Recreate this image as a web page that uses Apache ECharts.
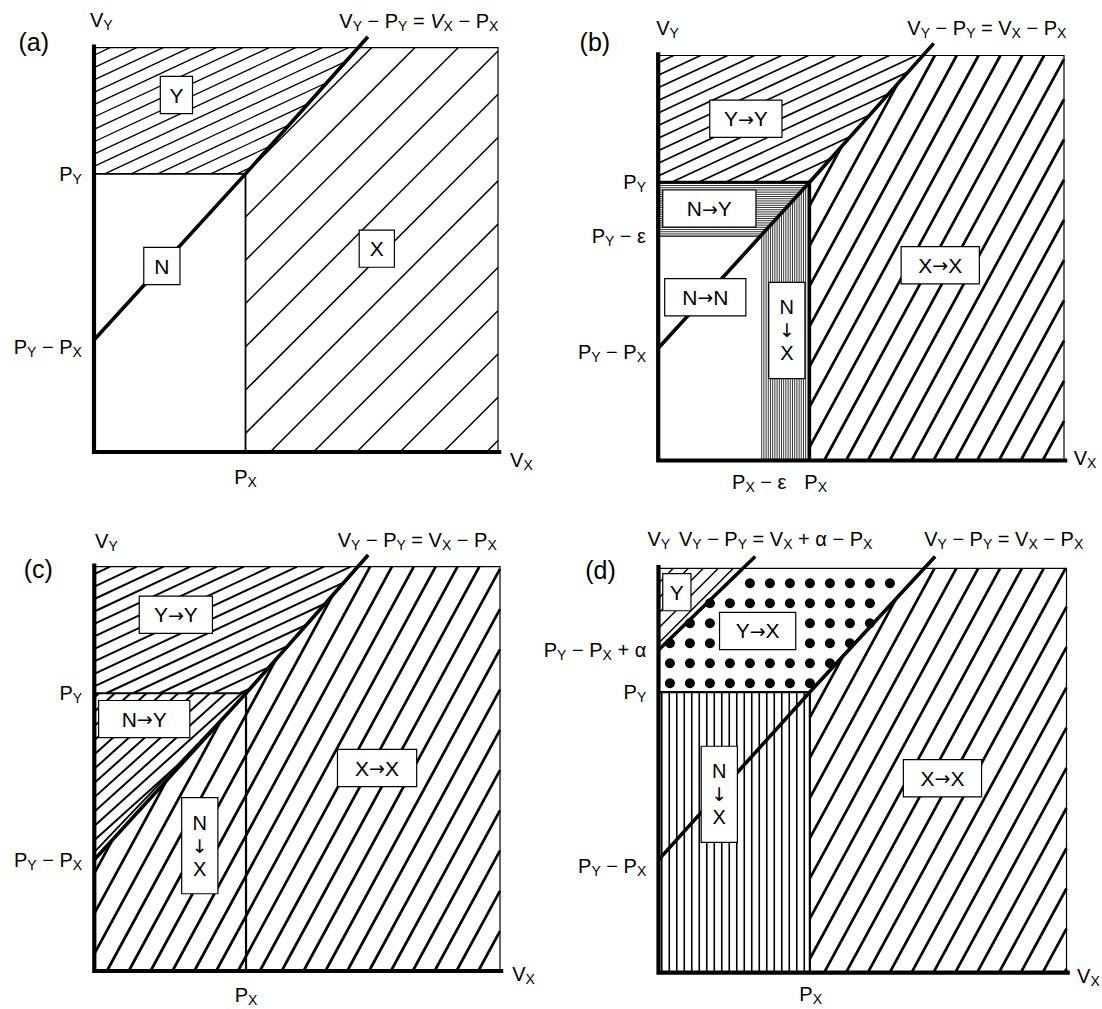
<!DOCTYPE html>
<html>
<head>
<meta charset="utf-8">
<script src="https://cdn.jsdelivr.net/npm/echarts@6/dist/echarts.min.js"></script>
<style>
html,body{margin:0;padding:0;background:#fff;}
#chart{width:1102px;height:1009px;}
</style>
</head>
<body>
<div id="chart"></div>
<script>
// ===================== DATA (values in % of each panel's frame) =====================
const panelNames = ['(a)', '(b)', '(c)', '(d)'];
const PX      = [37.5, 37.3, 37.4, 37.1];          // P_X on the V_X axis
const PY      = [68.8, 68.7, 68.7, 69.4];          // P_Y on the V_Y axis
const PYmPX   = [27.7, 27.7, 27.5, 27.9];          // P_Y − P_X (intercept of the diagonal)
const diagEnd = [[67.8, 102.7], [67.9, 103.0], [67.5, 102.9], [67.8, 102.9]];
const PXmEps  = 25.5;                              // panel (b): P_X − ε
const PYmEps  = 55.4;                              // panel (b): P_Y − ε
const thinStart = 29.4;                            // panel (c): second boundary line
const alphaStart = 79.8;                           // panel (d): P_Y − P_X + α
const alphaEnd   = [23.7, 102.9];                  // panel (d): end of the α line

// tick labels: [text, value]
const yTicks = [
  [['P_Y', PY[0]], ['P_Y − P_X', PYmPX[0]]],
  [['P_Y', PY[1]], ['P_Y − ε', PYmEps], ['P_Y − P_X', PYmPX[1]]],
  [['P_Y', PY[2]], ['P_Y − P_X', PYmPX[2]]],
  [['P_Y − P_X + α', alphaStart], ['P_Y', PY[3]], ['P_Y − P_X', PYmPX[3]]]
];
const xTicks = [
  [['P_X', PX[0]]],
  [['P_X − ε', PXmEps], ['P_X', PX[1]]],
  [['P_X', PX[2]]],
  [['P_X', PX[3]]]
];
const lineLabels = [
  ['V_Y − P_Y = *V_X − P_X'],
  ['V_Y − P_Y = V_X − P_X'],
  ['V_Y − P_Y = V_X − P_X'],
  ['V_Y − P_Y = V_X + α − P_X', 'V_Y − P_Y = V_X − P_X']
];
const regionLabels = [
  ['Y', 'N', 'X'],
  ['Y→Y', 'N→Y', 'N→N', 'N\n↓\nX', 'X→X'],
  ['Y→Y', 'N→Y', 'N\n↓\nX', 'X→X'],
  ['Y', 'Y→X', 'N\n↓\nX', 'X→X']
];

// ===================== LAYOUT / STYLE =====================
const FONT = '"Liberation Sans", Arial, Helvetica, sans-serif';
const GRIDS = [[94, 47.7, 404, 404.3], [658.2, 55.5, 405.8, 405], [94.3, 566.7, 405.7, 404.3], [658.5, 568.3, 408, 404.4]];
const regionLabelPos = [
  [[20.4, 88.3], [16.8, 46.0], [70.0, 50.3]],
  [[21.6, 84.4], [12.6, 62.2], [11.6, 40.3], [31.7, 32.1], [69.5, 48.2]],
  [[20.1, 88.1], [12.3, 62.3], [26.0, 31.0], [69.7, 50.2]],
  [[4.5, 94.1], [24.3, 84.5], [14.9, 44.1], [69.6, 48.1]]
];
const regionLabelW = [[31, 35, 34], [71, 92, 80, 35, 77], [72, 90, 35, 78], [27, 75, 35, 77]];
const letterPos = [[-14.9, 101.3], [-15.6, 103.4], [-13.8, 99.4], [-14.2, 99.6]];
const vyPos = [[-1.0, 106.9], [-0.5, 106.7], [0.2, 106.4], [-2.7, 107.2]];
const vxPos = [[103, -2], [102.4, 0.5], [103, -0.7], [102.6, -0.8]];
const lineLabelPos = [
  [[100.1, 106.6, 'right']],
  [[100.6, 106.9, 'right']],
  [[99.2, 106.6, 'right']],
  [[5.0, 107.2, 'left'], [104.1, 107.2, 'right']]
];
const xTickY = [-3.2, -2.3, -2.9, -2.2];
const xTickDX = [[0], [-0.6, 1.5], [0], [0.2]];
const yTickDY = [[0, -1.7], [0, 0, -0.8], [0, 0, -2.0], [0, 0, -1.5]];

const rich = {
  s: { fontSize: 14, fontFamily: FONT, fill: '#000', padding: [10, 0, 0, 0] },
  i: { fontSize: 20, fontFamily: FONT, fill: '#000', fontStyle: 'italic' }
};
const boxRich = {
  a: { fontSize: 19, fontFamily: '"DejaVu Sans", sans-serif', fill: '#000' }
};
function toRich(s) {
  return s.replace(/\*([A-Za-z])/g, '{i|$1}').replace(/_([A-Za-z])/g, '{s|$1}');
}
function arrowRich(s) {
  return s.replace(/([→↓])/g, '{a|$1}');
}

// hatch lines clipped to a polygon (pixel space)
function hatch(poly, angle, spacing, anchor, width) {
  const a = angle * Math.PI / 180;
  const ux = Math.cos(a), uy = -Math.sin(a);
  const nx = -uy, ny = ux;
  const proj = p => p[0] * nx + p[1] * ny;
  let lo = Infinity, hi = -Infinity;
  poly.forEach(p => { const v = proj(p); lo = Math.min(lo, v); hi = Math.max(hi, v); });
  const c0 = proj(anchor);
  const out = [];
  for (let k = Math.ceil((lo - c0) / spacing); c0 + k * spacing <= hi; k++) {
    const cc = c0 + k * spacing;
    const ss = [];
    for (let j = 0; j < poly.length; j++) {
      const p = poly[j], q = poly[(j + 1) % poly.length];
      const dp = proj(p) - cc, dq = proj(q) - cc;
      if ((dp > 0) !== (dq > 0)) {
        const t = dp / (dp - dq);
        const x = p[0] + t * (q[0] - p[0]), y = p[1] + t * (q[1] - p[1]);
        ss.push(x * ux + y * uy);
      }
    }
    ss.sort((m, n) => m - n);
    for (let j = 0; j + 1 < ss.length; j += 2) {
      out.push({
        type: 'line',
        shape: { x1: cc * nx + ss[j] * ux, y1: cc * ny + ss[j] * uy, x2: cc * nx + ss[j + 1] * ux, y2: cc * ny + ss[j + 1] * uy },
        style: { stroke: '#000', lineWidth: width, lineCap: 'butt' }
      });
    }
  }
  return out;
}
function insidePoly(poly, x, y) {
  let inside = false;
  for (let i = 0, j = poly.length - 1; i < poly.length; j = i++) {
    const xi = poly[i][0], yi = poly[i][1], xj = poly[j][0], yj = poly[j][1];
    if (((yi > y) !== (yj > y)) && (x < (xj - xi) * (y - yi) / (yj - yi) + xi)) inside = !inside;
  }
  return inside;
}
function edgeDist(poly, x, y) {
  let d = Infinity;
  for (let i = 0; i < poly.length; i++) {
    const p = poly[i], q = poly[(i + 1) % poly.length];
    const dx = q[0] - p[0], dy = q[1] - p[1];
    let t = ((x - p[0]) * dx + (y - p[1]) * dy) / (dx * dx + dy * dy);
    t = Math.max(0, Math.min(1, t));
    d = Math.min(d, Math.hypot(x - p[0] - t * dx, y - p[1] - t * dy));
  }
  return d;
}
function dots(poly, anchor, step, r, margin) {
  const xs = poly.map(p => p[0]), ys = poly.map(p => p[1]);
  const x0 = Math.min(...xs), x1 = Math.max(...xs), y0 = Math.min(...ys), y1 = Math.max(...ys);
  const out = [];
  const i0 = Math.ceil((x0 - anchor[0]) / step), j0 = Math.ceil((y0 - anchor[1]) / step);
  for (let i = i0; anchor[0] + i * step <= x1; i++) {
    for (let j = j0; anchor[1] + j * step <= y1; j++) {
      const cx = anchor[0] + i * step, cy = anchor[1] + j * step;
      if (insidePoly(poly, cx, cy) && edgeDist(poly, cx, cy) >= margin) {
        out.push({ type: 'circle', shape: { cx, cy, r }, style: { fill: '#000' } });
      }
    }
  }
  return out;
}

function buildPanel(i, api) {
  const C = p => api.coord(p);
  const P = pts => pts.map(C);
  const px = PX[i], py = PY[i], b0 = PYmPX[i], end = diagEnd[i];
  const topX = px + (100 - py) * (end[0] - px) / (end[1] - py);
  const out = [];
  const add = (arr, z) => arr.forEach(e => { e.z2 = z; out.push(e); });
  const pl = (pts, w) => ({ type: 'polyline', shape: { points: P(pts) }, style: { stroke: '#000', lineWidth: w, fill: null, lineJoin: 'miter', lineCap: 'butt' } });
  const xRegion = [[px, 0], [100, 0], [100, 100], [topX, 100], [px, py]];
  const yRegion = [[0, py], [px, py], [topX, 100], [0, 100]];
  const rect = [[0, py], [px, py], [px, 0]];
  const diag = [[0, b0], [px, py], end];

  if (i === 0) {
    add(hatch(P(yRegion), 25, 11.2, C([4.0, 100]), 1.3), 1);
    add(hatch(P(xRegion), 45, 30.6, C([43.6, 0]), 1.5), 1);
    add([pl(rect, 1.8)], 10);
  } else if (i === 1) {
    add(hatch(P(yRegion), 25, 11.4, C([3.8, 100]), 1.7), 1);
    add(hatch(P([[0, PYmEps], [PXmEps, PYmEps], [px, py], [0, py]]), 0, 2.2, C([0, PYmEps]), 0.8), 1);
    add(hatch(P([[PXmEps, 0], [px, 0], [px, py], [PXmEps, PYmEps]]), 90, 2.2, C([PXmEps, 0]), 0.8), 1);
    add(hatch(P(xRegion), 61.5, 19.2, C([40.9, 0]), 2.7), 1);
    add([pl([[0, PYmEps], [PXmEps, PYmEps]], 1.3), pl(rect, 3.2)], 10);
  } else if (i === 2) {
    add(hatch(P(yRegion), 25, 11.3, C([3.9, 100]), 2.0), 1);
    add(hatch(P([[0, thinStart], [px, py], [0, py]]), 42, 10.6, C([0.6, 57.6]), 2.0), 1);
    add(hatch(P([[0, 0], [100, 0], [100, 100], [topX, 100], [px, py], [0, b0]]), 61.5, 19.2, C([40.8, 0]), 2.7), 1);
    add([pl(rect, 2.2), pl([[0, thinStart], [px, py]], 1.8)], 10);
  } else {
    const aTop = alphaEnd[0] * (100 - alphaStart) / (alphaEnd[1] - alphaStart);
    add(hatch(P([[0, alphaStart], [aTop, 100], [0, 100]]), 45, 10.6, C([0.4, 85.6]), 1.5), 1);
    add(dots(P([[0, py], [px, py], [topX, 100], [aTop, 100], [0, alphaStart]]), C([2.8, 96.3]), 20, 5, 2), 1);
    add(hatch(P([[0, 0], [px, 0], [px, py], [0, py]]), 90, 7.5, C([0.8, 0]), 1.6), 1);
    add(hatch(P(xRegion), 61.5, 19.2, C([40.6, 0]), 2.7), 1);
    add([pl(rect, 2.2), pl([[0, alphaStart], alphaEnd], 3.6)], 10);
  }
  // frame, axes and diagonal
  add([pl([[0, 100], [100, 100], [100, 0]], 1.2)], 11);
  add([pl(diag, 3.6)], 12);
  add([pl([[0, 100.8], [0, 0], [100.8, 0]], 4.2)], 13);

  // region labels (boxed)
  regionLabels[i].forEach((t, k) => {
    const pos = C(regionLabelPos[i][k]);
    const multi = t.indexOf('\n') >= 0;
    add([{
      type: 'text', x: pos[0], y: pos[1],
      style: {
        text: arrowRich(t), rich: boxRich, fontSize: multi ? 20 : 21, fontFamily: FONT, fill: '#000',
        align: 'center', verticalAlign: 'middle',
        width: regionLabelW[i][k],
        lineHeight: multi ? 23 : 36,
        padding: multi ? [13, 0, 13, 0] : [0, 0, 0, 0],
        backgroundColor: '#fff', borderColor: '#000', borderWidth: 1.2
      }
    }], 20);
  });

  const txt = (s, p, align, va, size) => {
    const c = C(p);
    return {
      type: 'text', x: c[0], y: c[1],
      style: { text: toRich(s), rich, fontSize: size || 20, fontFamily: FONT, fill: '#000', align, verticalAlign: va }
    };
  };
  const texts = [];
  texts.push(txt(panelNames[i], letterPos[i], 'center', 'middle', 25));
  texts.push(txt('V_Y', vyPos[i], 'left', 'middle'));
  texts.push(txt('V_X', vxPos[i], 'left', 'middle'));
  lineLabels[i].forEach((s, k) => {
    const lp = lineLabelPos[i][k];
    texts.push(txt(s, [lp[0], lp[1]], lp[2], 'middle'));
  });
  yTicks[i].forEach((tk, k) => texts.push(txt(tk[0], [-3, tk[1] + yTickDY[i][k]], 'right', 'middle')));
  xTicks[i].forEach((tk, k) => texts.push(txt(tk[0], [tk[1] + xTickDX[i][k], xTickY[i]], 'center', 'top')));
  add(texts, 30);
  return out;
}

const chart = echarts.init(document.getElementById('chart'), null, { renderer: 'svg' });
chart.setOption({
  animation: false,
  backgroundColor: '#fff',
  grid: GRIDS.map(g => ({ left: g[0], top: g[1], width: g[2], height: g[3], outerBoundsMode: 'none', containLabel: false })),
  xAxis: GRIDS.map((g, i) => ({ gridIndex: i, type: 'value', min: 0, max: 100, show: false })),
  yAxis: GRIDS.map((g, i) => ({ gridIndex: i, type: 'value', min: 0, max: 100, show: false })),
  series: GRIDS.map((g, i) => ({
    type: 'custom', xAxisIndex: i, yAxisIndex: i, data: [[0, 0]], clip: false, silent: true,
    renderItem: (params, api) => ({ type: 'group', children: buildPanel(i, api) })
  }))
});
</script>
</body>
</html>
